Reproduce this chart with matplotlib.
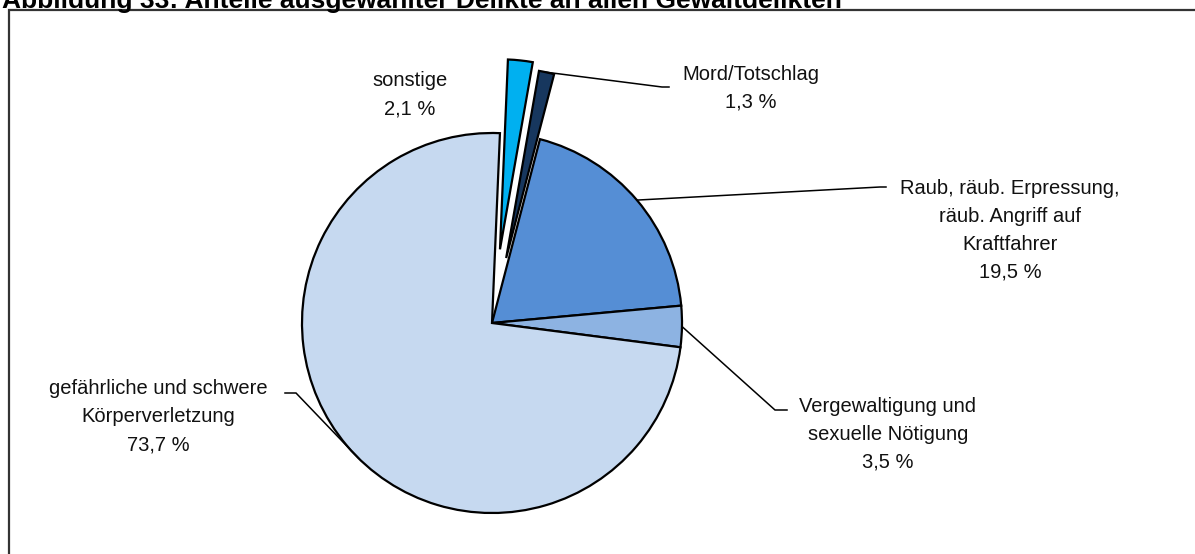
import numpy as np
import matplotlib
matplotlib.use("Agg")
import matplotlib.pyplot as plt
from matplotlib.patches import Rectangle

# Anteile der Delikte (in %), im Uhrzeigersinn ab 12 Uhr
delikte = ["sonstige", "Mord/Totschlag",
           "Raub, räub. Erpressung,\nräub. Angriff auf\nKraftfahrer",
           "Vergewaltigung und\nsexuelle Nötigung",
           "gefährliche und schwere\nKörperverletzung"]
anteile = [2.1, 1.3, 19.5, 3.5, 73.7]
farben = ["#00B0F0", "#17375E", "#558ED5", "#8DB3E2", "#C6D9F0"]
explode = [0.39, 0.35, 0, 0, 0]   # Anteil am Radius

W, H = 1195, 554
fig = plt.figure(figsize=(W / 100, H / 100), dpi=100)
ax = fig.add_axes([0, 0, 1, 1])

font = ["Liberation Sans", "DejaVu Sans"]

# Kreis in Pixelkoordinaten (y nach oben)
cx, cy, r = 492, H - 323, 190
wedges, _ = ax.pie(anteile, colors=farben, explode=[e * r for e in explode],
                   startangle=87.6, counterclock=False, center=(cx, cy),
                   radius=r, frame=True,
                   wedgeprops=dict(edgecolor="black", linewidth=1.6))

def rand(w, frac=0.5):
    # Punkt auf dem Kreisbogen eines Segments
    a = np.deg2rad(w.theta1 + frac * (w.theta2 - w.theta1))
    x0, y0 = w.center
    return x0 + w.r * np.cos(a), y0 + w.r * np.sin(a)

def fuehrung(w, knick, ende, frac=0.5):
    px, py = rand(w, frac)
    ax.plot([px, knick[0], ende[0]], [py, knick[1], ende[1]],
            color="black", lw=1.1, solid_joinstyle="miter")

def label(x, y, txt):
    ax.text(x, H - y, txt, ha="center", va="center", fontsize=14.5,
            family=font, color="#111111", linespacing=1.6)

wert = lambda v: f"{v:.1f} %".replace(".", ",")

# sonstige (ohne Linie)
label(410, 95, f"{delikte[0]}\n{wert(anteile[0])}")

# Mord/Totschlag
fuehrung(wedges[1], (662, H - 87), (669, H - 87), frac=0.6)
label(751, 88, f"{delikte[1]}\n{wert(anteile[1])}")

# Raub
fuehrung(wedges[2], (880, H - 187), (886, H - 187))
label(1010, 230, f"{delikte[2]}\n{wert(anteile[2])}")

# Vergewaltigung
fuehrung(wedges[3], (775, H - 410), (787, H - 410))
label(888, 434, f"{delikte[3]}\n{wert(anteile[3])}")

# Körperverletzung
fuehrung(wedges[4], (296, H - 393), (285, H - 393), frac=0.52)
label(158, 417, f"{delikte[4]}\n{wert(anteile[4])}")

# Rahmen
ax.add_patch(Rectangle((9.5, -20), W + 20, H - 10 + 20, fill=False,
                       edgecolor="#333333", lw=1.6, clip_on=False))

# Titel, oben angeschnitten
ax.text(2, H - 8, "Abbildung 33: Anteile ausgewählter Delikte an allen Gewaltdelikten",
        ha="left", va="baseline", fontsize=19, fontweight="bold",
        family=font, color="black")

ax.set_xlim(0, W)
ax.set_ylim(0, H)
ax.axis("off")

fig.savefig("out.png", dpi=100)
